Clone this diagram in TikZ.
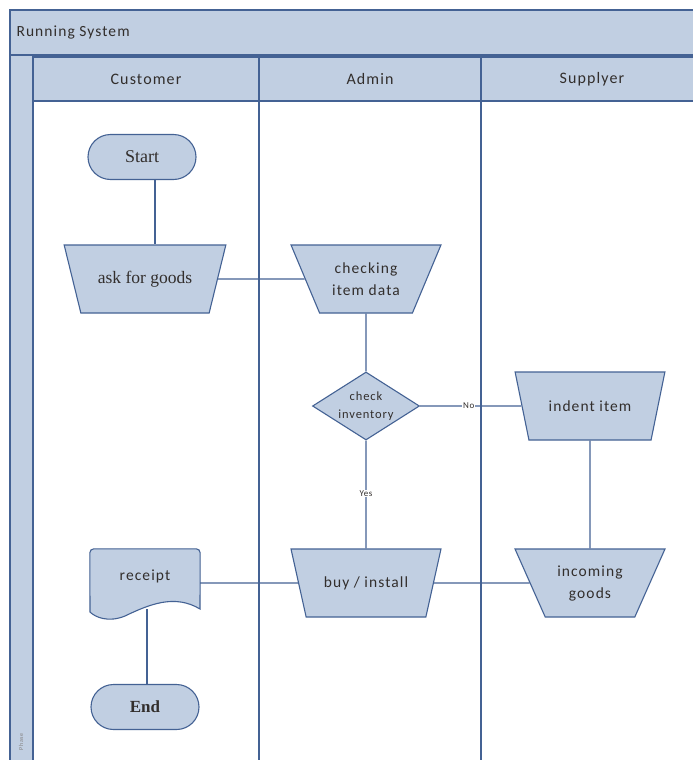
\documentclass[tikz,border=0pt]{standalone}
\usepackage{fontspec}
\setmainfont{Carlito}[LetterSpace=7]
\newfontfamily\romanfont{Liberation Serif}
\usetikzlibrary{positioning,shapes.geometric}

\definecolor{laneblue}{RGB}{193,207,226}
\definecolor{edgeblue}{RGB}{68,98,148}
\definecolor{inkgray}{RGB}{50,46,44}

\begin{document}
\begin{tikzpicture}[x=1pt,y=-1pt,
    lanebox/.style={draw=edgeblue, fill=laneblue, line width=1.4pt},
    lanetitle/.style={text=inkgray, font=\fontsize{16}{18}\selectfont},
    procbox/.style={trapezium, trapezium stretches=true, shape border rotate=180,
      draw=edgeblue, fill=laneblue, line width=1.1pt, text=inkgray,
      minimum width=150, minimum height=68, align=center,
      font=\fontsize{15.5}{22}\selectfont},
    termbox/.style={rectangle, rounded corners=22.5, draw=edgeblue, fill=laneblue,
      line width=1.1pt, text=inkgray, minimum width=108, minimum height=45,
      font=\romanfont\fontsize{18}{20}\selectfont},
    decbox/.style={diamond, aspect=1.57, draw=edgeblue, fill=laneblue, line width=1.1pt,
      text=inkgray, minimum width=107, minimum height=68, inner sep=0pt,
      align=center, font=\fontsize{12.5}{18}\selectfont},
    flow/.style={draw=edgeblue, line width=1.1pt},
    flowtag/.style={fill=white, inner sep=1pt, text=inkgray, font=\fontsize{9}{10}\selectfont}]

  \useasboundingbox (0,0) rectangle (693,760);
  \clip (0,0) rectangle (693,760);

  % pool and lanes
  \fill[white] (0,0) rectangle (693,760);
  \draw[lanebox] (10,10) rectangle (710,55);
  \node[anchor=west, text=inkgray, font=\fontsize{15.5}{17}\selectfont] (pool) at (13,33) {Running System};
  \draw[lanebox] (10,55) rectangle (33,780);
  \draw[lanebox] (33,57) rectangle (259,101);
  \draw[lanebox] (259,57) rectangle (481,101);
  \draw[lanebox] (481,57) rectangle (710,101);
  \draw[edgeblue, line width=1.4pt] (259,101) -- (259,780);
  \draw[edgeblue, line width=1.4pt] (481,101) -- (481,780);
  \node[lanetitle] (lcust) at (146,79) {Customer};
  \node[lanetitle] (ladmin) at (370,79) {Admin};
  \node[lanetitle] (lsupp) at (592,79) {Supplyer};
  \node[rotate=90, text=inkgray!60, font=\fontsize{6}{7}\selectfont] (phase) at (21,742) {Phase};

  % steps
  \node[termbox] (start) at (142,157) {Start};
  \node[procbox, minimum width=162, font=\romanfont\fontsize{17.5}{20}\selectfont] (ask) at (145,279) {ask for goods};
  \node[procbox] (check) at (366,279) {checking\\item data};
  \node[decbox] (inv) at (366,406) {check\\inventory};
  \node[procbox] (indent) at (590,406) {indent item};
  \node[procbox] (buy) at (366,583) {buy / install};
  \node[procbox] (incoming) at (590,583) {incoming\\goods};
  \node[rectangle, minimum width=110, minimum height=60] (rcpt) at (145,579) {};
  \node[termbox, font=\romanfont\bfseries\fontsize{17}{19}\selectfont] (end) at (145,707) {End};

  % document shape of the receipt
  \draw[edgeblue, fill=laneblue, line width=1.1pt]
    (90,612) [rounded corners=4] -- (rcpt.north west) -- (rcpt.north east) [sharp corners]
    -- (200,609) .. controls (175,594) and (150,604) .. (125,616)
    .. controls (108,623) and (95,617) .. (90,612) -- cycle;
  \node[text=inkgray, font=\fontsize{15.5}{17}\selectfont] (rtext) at (145,576) {receipt};

  % connectors
  \draw[flow] ([xshift=13]start.south) -- ([xshift=13]start.south |- ask.north);
  \draw[flow] (ask.east) -- (check.west);
  \draw[flow] (check.south) -- (inv.north);
  \draw[flow] (inv.east) -- node[flowtag, pos=0.48] {No} (indent.west);
  \draw[flow] (inv.south) -- node[flowtag, pos=0.49] {Yes} (buy.north);
  \draw[flow] (indent.south) -- (incoming.north);
  \draw[flow] (rcpt.east |- buy) -- (buy.west);
  \draw[flow] (buy.east) -- (incoming.west);
  \draw[flow] ([xshift=2]rcpt.south) -- ([xshift=2]rcpt.south |- end.north);
\end{tikzpicture}
\end{document}
